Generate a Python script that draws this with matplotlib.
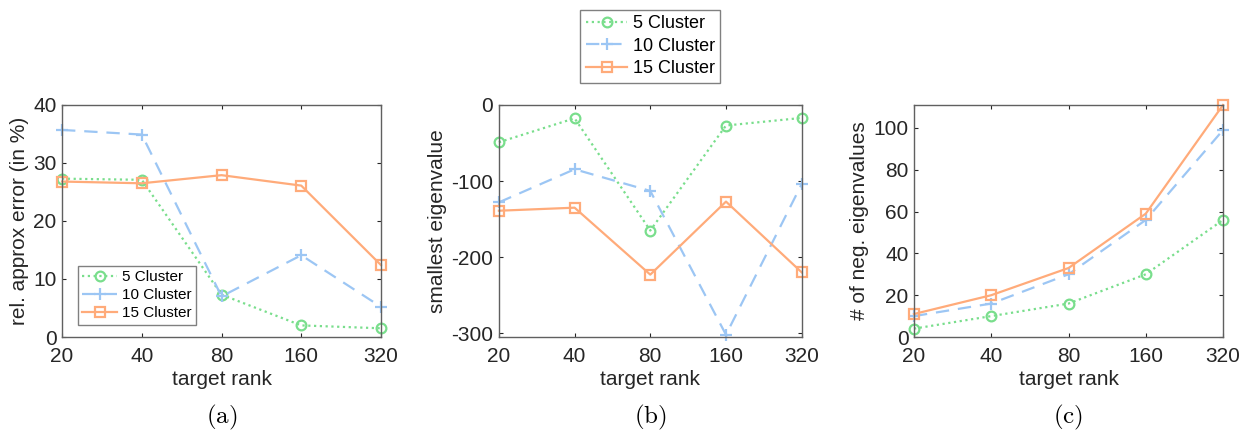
import matplotlib.pyplot as plt
from matplotlib.ticker import FixedLocator, NullLocator

ranks = [20, 40, 80, 160, 320]
labels = ["5 Cluster", "10 Cluster", "15 Cluster"]

# (a) relative approximation error in %
err_5 = [27.3, 27.1, 7.3, 2.0, 1.5]
err_10 = [35.7, 34.9, 7.0, 14.1, 5.2]
err_15 = [26.8, 26.5, 27.9, 26.1, 12.4]

# (b) smallest eigenvalue
eig_5 = [-49, -17.5, -165, -27, -17]
eig_10 = [-128, -84.5, -113, -302, -104]
eig_15 = [-139, -135, -223, -127, -220]

# (c) number of negative eigenvalues
neg_5 = [4, 10, 16, 30, 56]
neg_10 = [10, 16, 30, 56, 99]
neg_15 = [11, 20, 33, 59, 111]

green = "#79de8c"
blue = "#9cc6f4"
orange = "#ffab7a"
styles = [
    dict(color=green, ls=(0, (1, 1.6)), marker="o", ms=7, mfc="none", mew=1.6),
    dict(color=blue, ls=(0, (6, 4)), marker="+", ms=9, mew=1.6),
    dict(color=orange, ls="-", marker="s", ms=6.5, mfc="none", mew=1.6),
]

plt.rcParams["font.family"] = ["Liberation Sans", "DejaVu Sans"]
plt.rcParams["mathtext.fontset"] = "cm"
axcol = "#262626"
spcol = "#606060"

fig = plt.figure(figsize=(12.41, 4.34), dpi=100)

boxes = [
    [0.050, 0.2235, 0.257, 0.5346],
    [0.402, 0.2235, 0.244, 0.5346],
    [0.7365, 0.2235, 0.249, 0.5346],
]
data = [
    (err_5, err_10, err_15),
    (eig_5, eig_10, eig_15),
    (neg_5, neg_10, neg_15),
]
ylabels = ["rel. approx error (in %)", "smallest eigenvalue", "# of neg. eigenvalues"]
ylims = [(0, 40), (-305, 0), (0, 111)]
yticks = [[0, 10, 20, 30, 40], [-300, -200, -100, 0], [0, 20, 40, 60, 80, 100]]
captions = ["(a)", "(b)", "(c)"]

axes = []
for box, series, ylab, ylim, yt, cap in zip(boxes, data, ylabels, ylims, yticks, captions):
    ax = fig.add_axes(box)
    for vals, lab, st in zip(series, labels, styles):
        ax.plot(ranks, vals, lw=1.6, label=lab, clip_on=False, **st)
    ax.set_xscale("log", base=2)
    ax.set_xlim(20, 320)
    ax.xaxis.set_major_locator(FixedLocator(ranks))
    ax.xaxis.set_minor_locator(NullLocator())
    ax.set_xticklabels([str(r) for r in ranks])
    ax.set_ylim(*ylim)
    ax.set_yticks(yt)
    ax.set_yticklabels([str(v) for v in yt])
    ax.set_xlabel("target rank", fontsize=15, color=axcol, labelpad=3)
    ax.set_ylabel(ylab, fontsize=15, color=axcol, labelpad=3)
    ax.tick_params(direction="in", top=True, right=True, labelsize=15,
                   labelcolor=axcol, color=axcol, length=3, width=0.8)
    ax.tick_params(axis="x", pad=7)
    ax.tick_params(axis="y", pad=4)
    for sp in ax.spines.values():
        sp.set_color(spcol)
        sp.set_linewidth(1.0)
    ax.text(box[0] + box[2] / 2, 0.037, r"$\mathrm{%s}$" % cap,
            transform=fig.transFigure, ha="center", va="center",
            fontsize=18, color="black")
    axes.append(ax)

leg_kw = dict(frameon=True, fancybox=False, edgecolor=spcol,
              handletextpad=0.3, borderpad=0.3)
leg = axes[0].legend(loc="lower left", bbox_to_anchor=(0.025, 0.02),
                     fontsize=11, handlelength=2.3, labelspacing=0.25,
                     borderaxespad=0.5, **leg_kw)
leg.get_frame().set_linewidth(1.0)

h, l = axes[1].get_legend_handles_labels()
leg2 = fig.legend(h, l, loc="upper center", bbox_to_anchor=(0.524, 0.977),
                  fontsize=13, handlelength=2.3, labelspacing=0.3,
                  borderaxespad=0, **leg_kw)
leg2.get_frame().set_linewidth(1.0)

fig.savefig("out.png", dpi=100)
